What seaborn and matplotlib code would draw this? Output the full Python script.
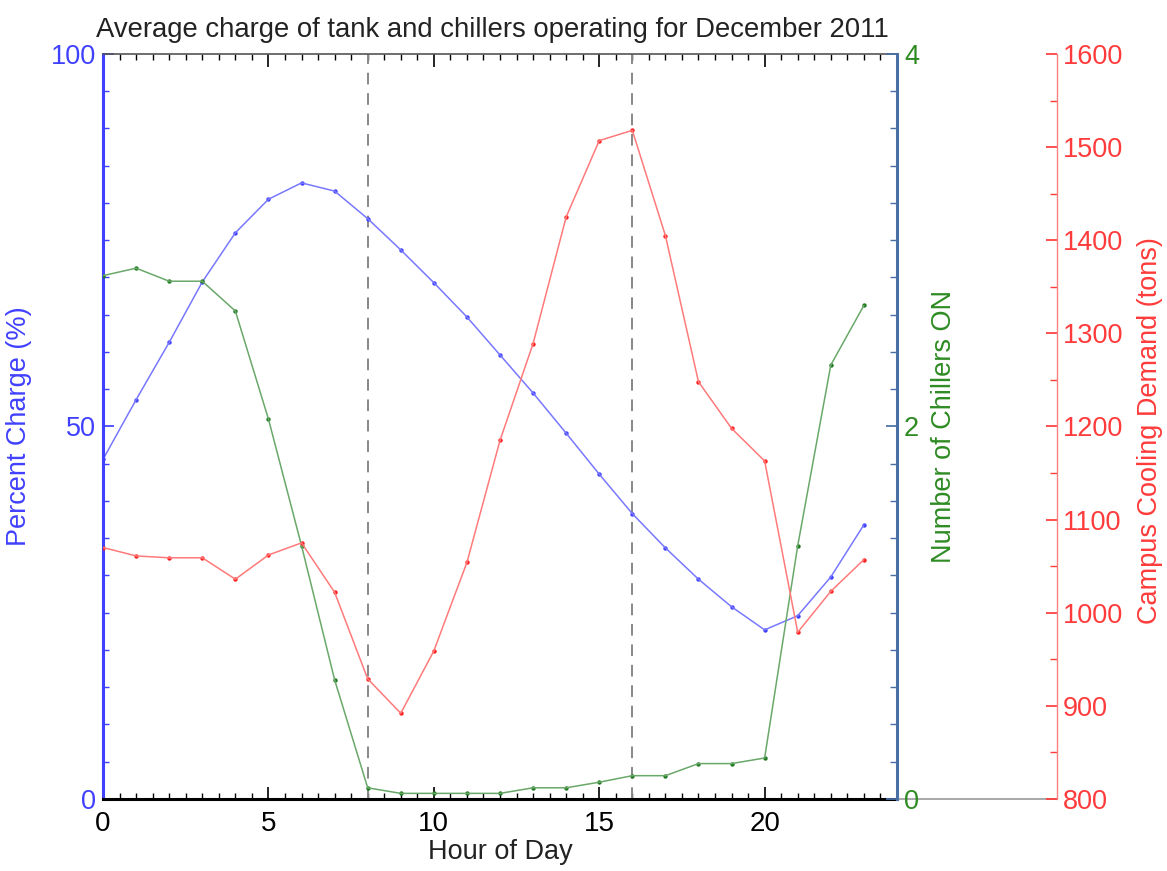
import matplotlib

matplotlib.use("Agg")

import matplotlib.pyplot as plt
import pandas as pd
import seaborn as sns
from matplotlib.ticker import MultipleLocator

# hourly averages
hours = list(range(24))
percent_charge = [45.6, 53.6, 61.3, 69.4, 76.0, 80.5, 82.7, 81.6, 77.9, 73.7, 69.3, 64.7,
                  59.6, 54.5, 49.1, 43.6, 38.3, 33.7, 29.5, 25.8, 22.7, 24.6, 29.8, 36.8]
chillers_on = [2.81, 2.85, 2.78, 2.78, 2.62, 2.04, 1.36, 0.64, 0.06, 0.03, 0.03, 0.03,
               0.03, 0.06, 0.06, 0.09, 0.125, 0.125, 0.19, 0.19, 0.22, 1.36, 2.33, 2.65]
cooling_demand = [1070, 1061, 1059, 1059, 1036, 1062, 1075, 1022, 929, 892, 959, 1054,
                  1185, 1289, 1425, 1507, 1518, 1405, 1248, 1198, 1163, 979, 1023, 1057]
peak_bounds = [8, 16]

BLUE = "#4040ff"
GREEN = "#2e8b22"
RED = "#ff3b3b"
FS = 19.5

df = pd.DataFrame({
    "hour": hours,
    "charge": percent_charge,
    "chillers": chillers_on,
    "demand": cooling_demand,
})

sns.set_theme(style="white")
plt.rcParams["font.family"] = ["Liberation Sans", "DejaVu Sans"]

fig = plt.figure(figsize=(11.67, 8.71), dpi=100)
ax = fig.add_axes([0.0883, 0.0827, 0.6803, 0.8553])
ax_green = ax.twinx()
ax_red = ax.twinx()
ax_red.spines["right"].set_position(("axes", 1.2015))

for x in peak_bounds:
    ax.axvline(x, color="#888888", lw=1.4, dashes=(6, 4.5), zorder=1)

series = [
    (ax, "charge", "#7878ff", BLUE),
    (ax_green, "chillers", "#6aa86a", "#1f7a1f"),
    (ax_red, "demand", "#ff7a7a", "#ff2020"),
]
for target, col, line_color, dot_color in series:
    sns.lineplot(data=df, x="hour", y=col, ax=target, color=line_color, lw=1.1)
    sns.scatterplot(data=df, x="hour", y=col, ax=target, color=dot_color, s=10,
                    linewidth=0)

ax.set_xlim(0, 24)
ax.set_ylim(0, 100)
ax_green.set_ylim(0, 4)
ax_red.set_ylim(800, 1600)

ax.xaxis.set_major_locator(MultipleLocator(5))
ax.xaxis.set_minor_locator(MultipleLocator(0.5))
ax.yaxis.set_major_locator(MultipleLocator(50))
ax.yaxis.set_minor_locator(MultipleLocator(5))
ax_green.yaxis.set_major_locator(MultipleLocator(2))
ax_green.yaxis.set_minor_locator(MultipleLocator(0.2))
ax_red.yaxis.set_major_locator(MultipleLocator(100))
ax_red.yaxis.set_minor_locator(MultipleLocator(50))

ax.tick_params(axis="x", which="both", direction="in", bottom=True, top=True,
               colors="black", labelsize=FS + 0.5, pad=9)
ax.tick_params(axis="x", which="major", length=9, width=1.2)
ax.tick_params(axis="x", which="minor", length=4, width=1)
ax.tick_params(axis="y", which="both", direction="in", left=True, right=False,
               colors=BLUE, labelsize=FS, pad=5)
ax.tick_params(axis="y", which="major", length=8)
ax.tick_params(axis="y", which="minor", length=4)

ax_green.tick_params(axis="y", which="both", direction="in", right=True,
                     color="#4a6fa5", labelcolor=GREEN, labelsize=FS, pad=5)
ax_green.tick_params(axis="y", which="major", length=8)
ax_green.tick_params(axis="y", which="minor", length=5)

ax_red.tick_params(axis="y", which="both", direction="in", right=True,
                   color=RED, labelcolor=RED, labelsize=FS, pad=4)
ax_red.tick_params(axis="y", which="major", length=8)
ax_red.tick_params(axis="y", which="minor", length=5)

for name, spine in ax.spines.items():
    spine.set_visible(name != "right")
ax.spines["left"].set_color(BLUE)
ax.spines["left"].set_linewidth(2.2)
ax.spines["bottom"].set_color("black")
ax.spines["bottom"].set_linewidth(2.2)
ax.spines["top"].set_color("#555555")
ax.spines["top"].set_linewidth(1.2)

for name, spine in ax_green.spines.items():
    spine.set_visible(name == "right")
ax_green.spines["right"].set_color("#4a6fa5")
ax_green.spines["right"].set_linewidth(2.2)

for name, spine in ax_red.spines.items():
    spine.set_visible(name == "right")
ax_red.spines["right"].set_color("#ff8080")
ax_red.spines["right"].set_linewidth(1)

# baseline joining the chiller axis to the demand axis
ax.plot([1, 1.2015], [0, 0], transform=ax.transAxes, clip_on=False,
        color="#999999", lw=1.2)

ax.set_xlabel("Hour of Day", fontsize=FS, color="#222222", labelpad=1)
ax.set_ylabel("Percent Charge (%)", fontsize=FS, color=BLUE)
ax.yaxis.set_label_coords(-0.089, 0.5)
ax_green.set_ylabel("Number of Chillers ON", fontsize=FS, color=GREEN)
ax_green.yaxis.set_label_coords(1.043, 0.5)
ax_red.set_ylabel("Campus Cooling Demand (tons)", fontsize=FS, color=RED)
ax_red.yaxis.set_label_coords(1.302, 0.495)

ax.set_title("Average charge of tank and chillers operating for December 2011",
             fontsize=FS + 0.3, color="#222222", x=0.491, pad=12)

fig.savefig("out.png", dpi=100)
